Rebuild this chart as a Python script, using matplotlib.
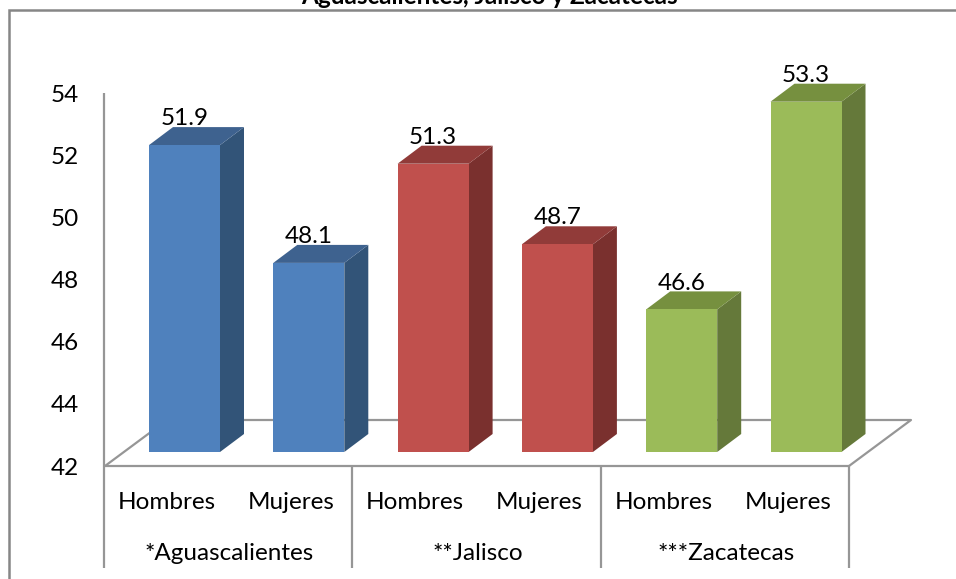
import matplotlib
matplotlib.use("Agg")
import matplotlib.pyplot as plt
from matplotlib.patches import Polygon, Rectangle

groups = ["*Aguascalientes", "**Jalisco", "***Zacatecas"]
sexes = ["Hombres", "Mujeres"]
values = [51.9, 48.1, 51.3, 48.7, 46.6, 53.3]
yticks = [42, 44, 46, 48, 50, 52, 54]
title = "Aguascalientes, Jalisco y Zacatecas"
front = ["#4F81BD", "#C0504D", "#9BBB59"]
top = ["#3E628F", "#913B39", "#76903F"]
side = ["#325478", "#7A302E", "#65793A"]
grey = "#969696"
FONT = "Lato"
FS = 17.5

W, H = 956, 579
PXX, PXY = 124.3, 31.0     # pixels per bar slot / per value unit
X0, Y0 = 184.5, 452.0      # pixel of bar 0 centre / of value 42 on the bar base


def px(x):
    return (x - X0) / PXX


def py(y):
    return 42 + (Y0 - y) / PXY


fig = plt.figure(figsize=(W / 100, H / 100), dpi=100)
ax = fig.add_axes([0, 0, 1, 1])
ax.set_xlim(px(0), px(W))
ax.set_ylim(py(H), py(0))
ax.axis("off")

line = dict(color=grey, lw=1.6, solid_capstyle="butt", zorder=1)

# chart frame: only left and top edges fall inside the picture
ax.plot([px(9), px(9), px(W)], [py(H), py(10), py(10)],
        color="#868686", lw=1.8, solid_capstyle="butt", solid_joinstyle="miter", zorder=1)

# wall and floor
ax.plot([px(104), px(104)], [py(93), py(568)], **line)
ax.plot([px(104), px(849)], [py(466), py(466)], **line)
ax.plot([px(105), px(167), px(911), px(849)],
        [py(466), py(420), py(420), py(466)], **line)
for x in [352, 600.5, 849]:
    ax.plot([px(x), px(x)], [py(466), py(568)], **line)

# y tick labels (the axis runs from 466 px at 42 to 93 px at 54)
for t in yticks:
    ypix = 466 - (t - 42) * (466 - 93) / (yticks[-1] - yticks[0])
    ax.text(px(65), py(ypix), str(t), ha="center", va="center_baseline",
            fontsize=FS, family=FONT, color="black")

# bars
DX, DY = 24, 18
BW = 71
for i, v in enumerate(values):
    c = i // 2
    l, r = i - (BW / 2) / PXX, i + (BW / 2) / PXX
    dx, dy = DX / PXX, DY / PXY
    ax.add_patch(Polygon([(r, 42), (r + dx, 42 + dy), (r + dx, v + dy), (r, v)],
                         fc=side[c], ec="none", zorder=3))
    ax.add_patch(Polygon([(l, v), (l + dx, v + dy), (r + dx, v + dy), (r, v)],
                         fc=top[c], ec="none", zorder=3))
    ax.add_patch(Rectangle((l, 42), r - l, v - 42, fc=front[c], ec="none", zorder=3))
    ax.text(i, v + dy + 0.06, f"{v:.1f}", ha="center", va="baseline", fontsize=FS,
            family=FONT, color="black", zorder=4)

# category labels
for i in range(len(values)):
    ax.text(i - 0.145, py(500), sexes[i % 2], ha="center", va="center_baseline",
            fontsize=FS, family=FONT, color="black")
for g, name in enumerate(groups):
    ax.text(2 * g + 0.36, py(551), name, ha="center", va="center_baseline",
            fontsize=FS, family=FONT, color="black")

ax.text(px(489), py(3.5), title, ha="center", va="baseline", fontsize=FS,
        family=FONT, fontweight="bold", color="black", clip_on=True)

fig.savefig("out.png", dpi=100)
